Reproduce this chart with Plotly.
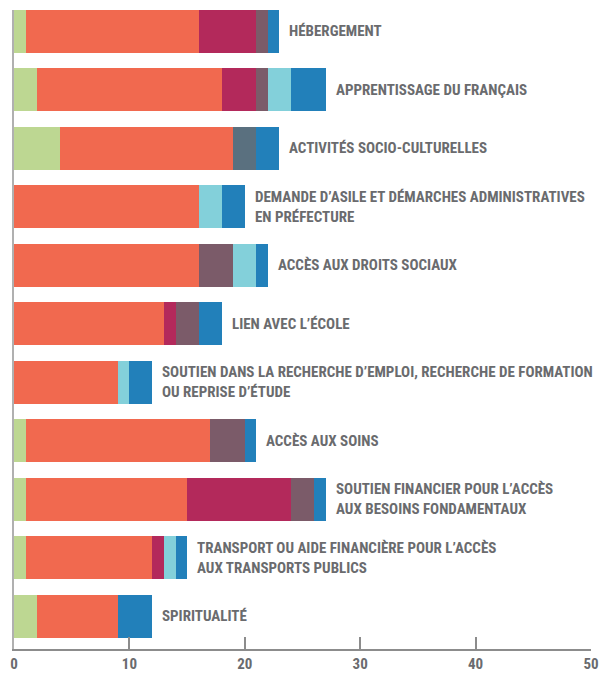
import plotly.graph_objects as go

# categories (top to bottom) and their labels as shown next to the bars
categories = [
    "HÉBERGEMENT",
    "APPRENTISSAGE DU FRANÇAIS",
    "ACTIVITÉS SOCIO-CULTURELLES",
    "DEMANDE D’ASILE ET DÉMARCHES ADMINISTRATIVES<br>EN PRÉFECTURE",
    "ACCÈS AUX DROITS SOCIAUX",
    "LIEN AVEC L’ÉCOLE",
    "SOUTIEN DANS LA RECHERCHE D’EMPLOI, RECHERCHE DE FORMATION<br>OU REPRISE D’ÉTUDE",
    "ACCÈS AUX SOINS",
    "SOUTIEN FINANCIER POUR L’ACCÈS<br>AUX BESOINS FONDAMENTAUX",
    "TRANSPORT OU AIDE FINANCIÈRE POUR L’ACCÈS<br>AUX TRANSPORTS PUBLICS",
    "SPIRITUALITÉ",
]

# stacked series values, same order as categories
s_green = [1, 2, 4, 0, 0, 0, 0, 1, 1, 1, 2]
s_coral = [15, 16, 15, 16, 16, 13, 9, 16, 14, 11, 7]
s_magenta = [5, 3, 0, 0, 0, 1, 0, 0, 9, 1, 0]
s_mauve = [1, 1, 0, 0, 3, 2, 0, 3, 2, 0, 0]
s_slate = [0, 0, 2, 0, 0, 0, 0, 0, 0, 0, 0]
s_cyan = [0, 2, 0, 2, 2, 0, 1, 0, 0, 1, 0]
s_blue = [1, 3, 2, 2, 1, 2, 2, 1, 1, 1, 3]

x_ticks = [0, 10, 20, 30, 40, 50]

SERIES = [
    ("Série 1", s_green, "#bdd792"),
    ("Série 2", s_coral, "#f1694f"),
    ("Série 3", s_magenta, "#b3295b"),
    ("Série 4", s_mauve, "#7b5b69"),
    ("Série 5", s_slate, "#5a707f"),
    ("Série 6", s_cyan, "#83d0da"),
    ("Série 7", s_blue, "#2280ba"),
]

TEXT_COLOR = "#6a6b6e"
AXIS_COLOR = "#8c8c8c"
FONT = "Liberation Sans Narrow, Roboto Condensed, Liberation Sans, sans-serif"

fig = go.Figure()
for name, vals, color in SERIES:
    fig.add_trace(go.Bar(
        y=categories, x=vals, name=name, orientation="h",
        marker=dict(color=color, line=dict(width=0)),
    ))

totals = [sum(v) for v in zip(*[s[1] for s in SERIES])]
for cat, tot in zip(categories, totals):
    fig.add_annotation(
        x=tot, y=cat, text=cat, showarrow=False,
        xanchor="left", yanchor="middle", xshift=8, align="left",
        font=dict(family=FONT, size=15, color=TEXT_COLOR, weight="bold"),
    )

# page body keeps its default 8px margin, so the figure is sized to fit
fig.update_layout(
    barmode="stack",
    bargap=0.27,
    showlegend=False,
    width=600, height=667,
    margin=dict(l=6, r=17, t=2, b=26, autoexpand=False),
    plot_bgcolor="white",
    paper_bgcolor="white",
    font=dict(family=FONT, color=TEXT_COLOR),
)
fig.update_xaxes(
    range=[0, 50], tickvals=x_ticks, showgrid=False, zeroline=False,
    showline=True, linecolor=AXIS_COLOR, linewidth=2,
    ticks="inside", ticklen=12, tickwidth=2, tickcolor=AXIS_COLOR,
    ticklabelstandoff=0, automargin=False,
    tickfont=dict(family=FONT, size=15, color=TEXT_COLOR, weight="bold"),
)
fig.update_yaxes(
    range=[10.559, -0.364], showticklabels=False, showgrid=False,
    showline=True, linecolor="#b0b0b0", linewidth=2, zeroline=False,
    automargin=False,
)

fig.write_html("out.html")
